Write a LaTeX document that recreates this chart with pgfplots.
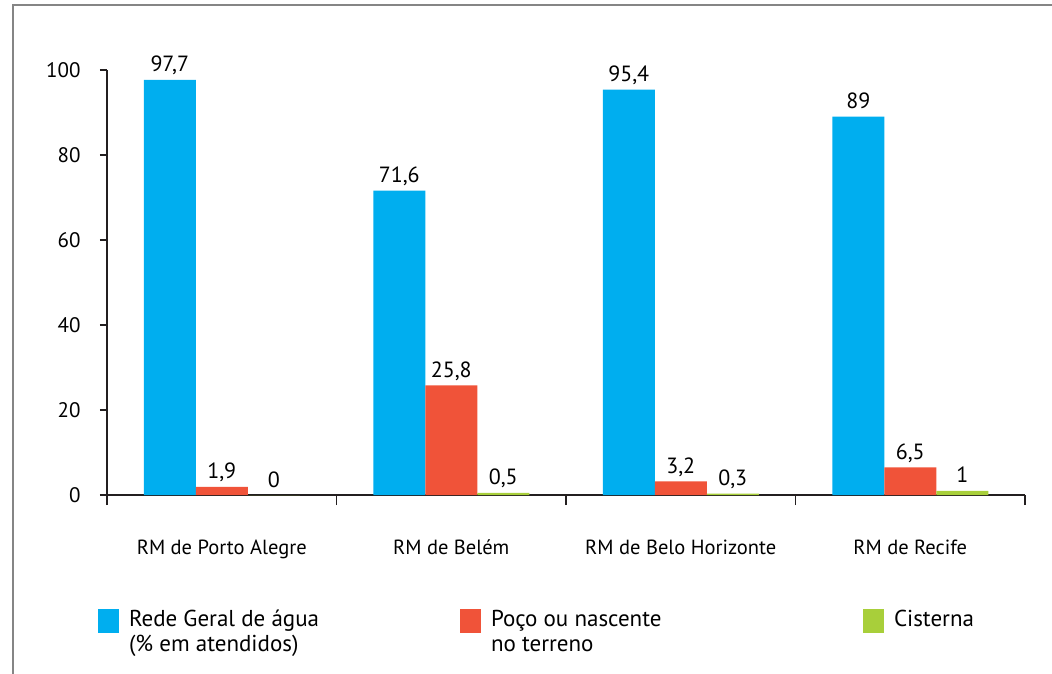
\documentclass[border=0pt]{standalone}
\usepackage{pgfplots}
\pgfplotsset{compat=1.18}
\usepackage{fontspec}
\setmainfont{PT Sans}
\definecolor{cblue}{HTML}{00AEEF}
\definecolor{cred}{HTML}{F05339}
\definecolor{cgreen}{HTML}{A8CF3A}
\definecolor{axgray}{HTML}{231F20}
\definecolor{framegray}{HTML}{858585}
\begin{document}
\begin{tikzpicture}
\path[use as bounding box] (0,0) rectangle (1052pt,673pt);
\draw[framegray, line width=2pt] (12.5pt,-2pt) -- (12.5pt,667.5pt) -- (1054pt,667.5pt);
\begin{axis}[
  at={(107pt,178pt)}, anchor=south west,
  scale only axis, width=918pt, height=425pt,
  xmin=-0.5, xmax=3.5, ymin=0, ymax=100,
  axis lines*=left,
  axis line style={axgray, line width=1.3pt},
  tick style={axgray, line width=1.3pt},
  tick align=outside,
  major tick length=7pt,
  minor tick length=10pt,
  ytick={0,20,40,60,80,100},
  xtick={0,1,2,3},
  minor xtick={-0.5,0.5,1.5,2.5,3.5},
  major x tick style={draw=none},
  xticklabels={RM de Porto Alegre, RM de Belém, RM de Belo Horizonte, RM de Recife},
  xticklabel style={font=\fontsize{20.5}{24}\selectfont, anchor=base, yshift=-52pt},
  yticklabel style={font=\fontsize{21}{25}\selectfont, anchor=east, xshift=-16pt},
  /pgf/number format/assume math mode=true,
  /pgf/number format/use comma,
  clip=false,
  nodes near coords,
  every node near coord/.append style={font=\fontsize{22}{26}\selectfont, text=black, anchor=base, yshift=8pt, /pgf/number format/use comma},
  legend columns=3,
  legend style={at={(axis description cs:-0.0098,-0.268)}, anchor=north west, draw=none, fill=none, inner sep=0pt, outer sep=0pt, column sep=0pt,
    /tikz/every odd column/.append style={column sep=10pt},
    nodes={inner sep=0pt, anchor=base west, font=\fontsize{23}{25}\selectfont}},
  legend image code/.code={\fill[#1] (0pt,-6pt) rectangle (21pt,18pt);},
]
\addplot[ybar, bar width=52pt, bar shift=-52pt, fill=cblue, draw=none,
  every node near coord/.append style={xshift=-52pt}] coordinates {(0,97.7) (1,71.6) (2,95.4) (3,89)};
\addplot[ybar, bar width=52pt, bar shift=0pt, fill=cred, draw=none] coordinates {(0,1.9) (1,25.8) (2,3.2) (3,6.5)};
\addplot[ybar, bar width=52pt, bar shift=52pt, fill=cgreen, draw=none,
  every node near coord/.append style={xshift=52pt}] coordinates {(0,0) (1,0.5) (2,0.3) (3,1)};
\legend{{\parbox[t]{331pt}{Rede Geral de água\\(\% em atendidos)}},{\parbox[t]{372pt}{Poço ou nascente\\no terreno}},{Cisterna}}
\end{axis}
\end{tikzpicture}
\end{document}
